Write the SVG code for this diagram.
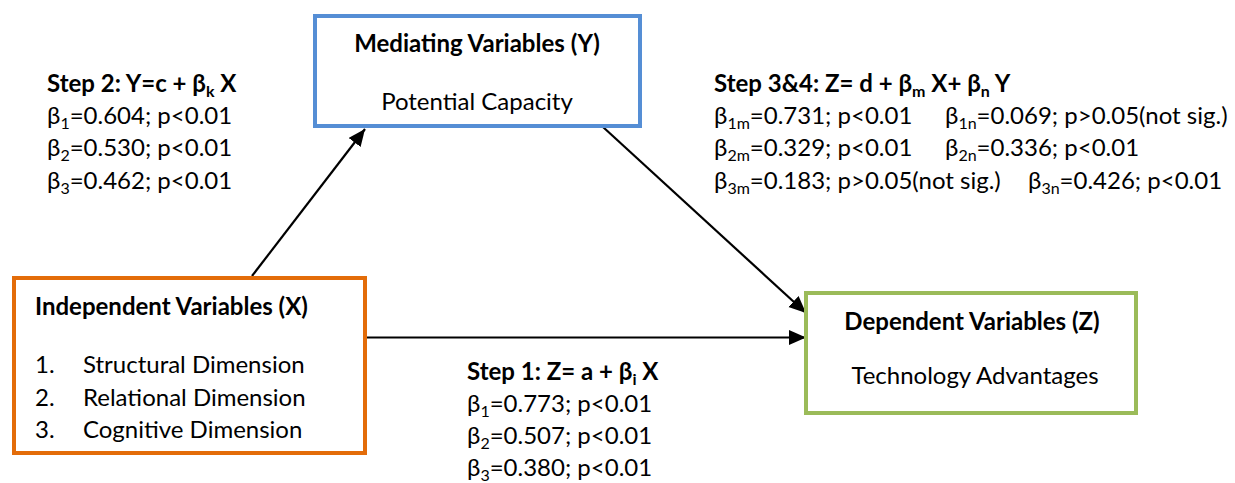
<svg xmlns="http://www.w3.org/2000/svg" width="1235" height="483" viewBox="0 0 1235 483">
  <style>
    text { font-family: Lato, "Open Sans", "Liberation Sans", sans-serif; font-size: 24px; fill: #000; }
    .b { font-weight: bold; }
    .mid { text-anchor: middle; }
    .sub { font-size: 16px; }
    .box { fill: #fff; stroke-width: 4; }
    .conn { stroke: #000; stroke-width: 2.2; fill: none; marker-end: url(#arrow); }
  </style>
  <defs>
    <marker id="arrow" markerUnits="userSpaceOnUse" markerWidth="18" markerHeight="16" refX="17" refY="7.5" orient="auto">
      <path d="M0,0 L17,7.5 L0,15 z" fill="#000"/>
    </marker>
  </defs>
  <rect width="1235" height="483" fill="#fff"/>

  <!-- connectors -->
  <g id="connectors">
    <line class="conn" x1="252" y1="276" x2="365" y2="129"/>
    <line class="conn" x1="603" y1="127" x2="806" y2="313"/>
    <line class="conn" x1="367" y1="337.5" x2="806" y2="337.5"/>
  </g>

  <!-- mediating variables -->
  <g id="node-mediating">
    <rect class="box" x="315" y="16" width="325" height="110" stroke="#558ED5"/>
    <text class="b mid" x="477" y="52">Mediating Variables (Y)</text>
    <text class="mid" x="477" y="110">Potential Capacity</text>
  </g>

  <!-- independent variables -->
  <g id="node-independent">
    <rect class="box" x="14" y="278" width="351" height="175" stroke="#E36C09"/>
    <text class="b" x="35" y="315">Independent Variables (X)</text>
    <text x="35" y="373">1.</text>
    <text x="83" y="373">Structural Dimension</text>
    <text x="35" y="406">2.</text>
    <text x="83" y="406">Relational Dimension</text>
    <text x="35" y="438">3.</text>
    <text x="83" y="438">Cognitive Dimension</text>
  </g>

  <!-- dependent variables -->
  <g id="node-dependent">
    <rect class="box" x="806" y="293" width="330" height="120" stroke="#9BBB59"/>
    <text class="b mid" x="972" y="330">Dependent Variables (Z)</text>
    <text class="mid" x="975" y="384">Technology Advantages</text>
  </g>

  <!-- step 2 : X to Y -->
  <g id="label-step2">
    <text class="b" x="47" y="92">Step 2: Y=c + β<tspan class="sub" dy="5">k</tspan><tspan dy="-5"> X</tspan></text>
    <text x="47" y="124">β<tspan class="sub" dy="5">1</tspan><tspan dy="-5">=0.604; p&lt;0.01</tspan></text>
    <text x="47" y="156">β<tspan class="sub" dy="5">2</tspan><tspan dy="-5">=0.530; p&lt;0.01</tspan></text>
    <text x="47" y="189">β<tspan class="sub" dy="5">3</tspan><tspan dy="-5">=0.462; p&lt;0.01</tspan></text>
  </g>

  <!-- step 3 & 4 : X and Y to Z -->
  <g id="label-step34">
    <text class="b" x="714" y="92">Step 3&amp;4: Z= d + β<tspan class="sub" dy="5">m</tspan><tspan dy="-5"> X+ β</tspan><tspan class="sub" dy="5">n</tspan><tspan dy="-5"> Y</tspan></text>
    <text x="714" y="124">β<tspan class="sub" dy="5">1m</tspan><tspan dy="-5">=0.731; p&lt;0.01</tspan></text>
    <text x="945" y="124">β<tspan class="sub" dy="5">1n</tspan><tspan dy="-5">=0.069; p&gt;0.05(not sig.)</tspan></text>
    <text x="714" y="156">β<tspan class="sub" dy="5">2m</tspan><tspan dy="-5">=0.329; p&lt;0.01</tspan></text>
    <text x="945" y="156">β<tspan class="sub" dy="5">2n</tspan><tspan dy="-5">=0.336; p&lt;0.01</tspan></text>
    <text x="714" y="189">β<tspan class="sub" dy="5">3m</tspan><tspan dy="-5">=0.183; p&gt;0.05(not sig.)</tspan></text>
    <text x="1028" y="189">β<tspan class="sub" dy="5">3n</tspan><tspan dy="-5">=0.426; p&lt;0.01</tspan></text>
  </g>

  <!-- step 1 : X to Z -->
  <g id="label-step1">
    <text class="b" x="467" y="380">Step 1: Z= a + β<tspan class="sub" dy="5">i</tspan><tspan dy="-5"> X</tspan></text>
    <text x="467" y="412">β<tspan class="sub" dy="5">1</tspan><tspan dy="-5">=0.773; p&lt;0.01</tspan></text>
    <text x="467" y="444">β<tspan class="sub" dy="5">2</tspan><tspan dy="-5">=0.507; p&lt;0.01</tspan></text>
    <text x="467" y="476">β<tspan class="sub" dy="5">3</tspan><tspan dy="-5">=0.380; p&lt;0.01</tspan></text>
  </g>
</svg>
